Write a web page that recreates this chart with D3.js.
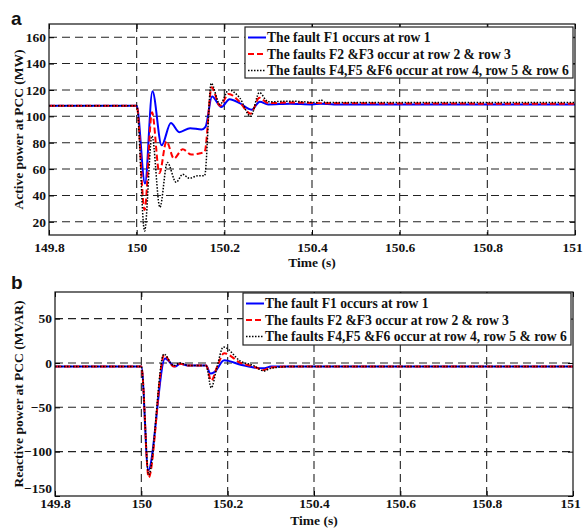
<!DOCTYPE html>
<html>
<head>
<meta charset="utf-8">
<script src="https://cdn.jsdelivr.net/npm/d3@7"></script>
<style>
  body { margin: 0; background: #fff; }
  svg { display: block; }
  text { font-family: "Liberation Serif", "Times New Roman", serif; font-weight: bold; fill: #111; }
  .panel { font-family: "Liberation Sans", Arial, sans-serif; font-size: 19px; }
</style>
</head>
<body>
<div id="app"></div>
<script>
'use strict'

// Legend entries
const legendLabels = [
  'The fault F1 occurs at row 1',
  'The faults F2 &F3 occur at row 2 & row 3',
  'The faults F4,F5 &F6 occur at row 4, row 5 & row 6',
];

const timeTicks = [149.8, 150, 150.2, 150.4, 150.6, 150.8, 151];
const activeTicks = [20, 40, 60, 80, 100, 120, 140, 160];
const reactiveTicks = [-150, -100, -50, 0, 50];

// Active power (MW): [time (s), value]
const activeF1 = [
  [149.8, 108], [150.0, 108], [150.019, 49], [150.036, 119], [150.057, 78],
  [150.078, 95], [150.097, 88], [150.122, 91], [150.148, 90], [150.157, 92],
  [150.172, 115], [150.193, 107], [150.212, 113], [150.235, 110], [150.262, 105],
  [150.281, 111], [150.3, 109], [150.35, 109.5], [150.4, 109], [150.42, 109.5],
  [150.45, 109], [151, 109],
];
const activeF23 = [
  [149.8, 108], [150.0, 108], [150.018, 29], [150.035, 103], [150.052, 57],
  [150.068, 81], [150.085, 68], [150.105, 75], [150.125, 71], [150.145, 72],
  [150.155, 73], [150.171, 122], [150.19, 108], [150.21, 117], [150.232, 112],
  [150.26, 102], [150.28, 114], [150.3, 110], [150.35, 110.5], [150.42, 110],
  [151, 109.5],
];
const activeF456 = [
  [149.8, 108], [150.0, 108], [150.018, 13], [150.035, 85], [150.053, 31],
  [150.07, 65], [150.09, 50], [150.105, 56], [150.12, 53], [150.14, 55],
  [150.155, 55], [150.17, 125], [150.19, 109], [150.21, 120], [150.235, 114],
  [150.26, 100], [150.28, 118], [150.3, 111], [150.35, 111.5], [150.41, 110.5],
  [150.42, 112.5], [150.43, 110.5], [151, 110.5],
];

// Reactive power (MVAR): [time (s), value]
const reactiveF1 = [
  [149.8, -4], [150.0, -4], [150.016, -121], [150.055, 5], [150.078, -4],
  [150.09, -1], [150.11, -3], [150.15, -3], [150.16, -12], [150.17, -10],
  [150.192, 3], [150.23, -2], [150.26, -5], [150.285, -6], [150.3, -4],
  [150.35, -4], [151, -4],
];
const reactiveF23 = [
  [149.8, -4], [150.0, -4], [150.017, -129], [150.053, 9], [150.075, -4],
  [150.09, -1], [150.11, -3], [150.15, -3], [150.162, -20], [150.175, -5],
  [150.192, 11], [150.23, 0], [150.26, -4], [150.284, -8], [150.3, -5],
  [150.35, -4], [151, -4],
];
const reactiveF456 = [
  [149.8, -4], [150.0, -4], [150.017, -126], [150.052, 10], [150.075, -3],
  [150.09, 0], [150.11, -3], [150.15, -3], [150.162, -28], [150.175, -5],
  [150.19, 18], [150.23, 2], [150.26, -3], [150.284, -9], [150.3, -6],
  [150.35, -4], [151, -4],
];

const styles = [
  {color: '#0000ff', width: 2, dash: null},
  {color: '#ff0000', width: 2, dash: '6,3'},
  {color: '#000000', width: 1.5, dash: '1.5,1.5'},
];

const svg = d3.select('#app').append('svg')
  .attr('width', 584)
  .attr('height', 530);

function drawPanel(cfg) {
  const g = svg.append('g');
  const {left, right, top, bottom} = cfg;

  const x = d3.scaleLinear().domain([149.8, 151]).range([left, right]);
  const y = d3.scaleLinear().domain(cfg.yDomain).range([bottom, top]);

  // Dashed grid
  g.selectAll('line.gx').data(timeTicks.slice(1, -1)).enter()
    .append('line')
      .attr('x1', (d) => x(d)).attr('x2', (d) => x(d))
      .attr('y1', top).attr('y2', bottom)
      .attr('stroke', '#222').attr('stroke-width', 1.1)
      .attr('stroke-dasharray', '8,5');
  g.selectAll('line.gy').data(cfg.yTicks.filter((d) => y(d) > top + 1 && y(d) < bottom - 1)).enter()
    .append('line')
      .attr('x1', left).attr('x2', right)
      .attr('y1', (d) => y(d)).attr('y2', (d) => y(d))
      .attr('stroke', '#222').attr('stroke-width', 1.1)
      .attr('stroke-dasharray', '8,5');

  // Series
  const line = d3.line()
    .x((d) => x(d[0]))
    .y((d) => y(d[1]))
    .curve(d3.curveMonotoneX);
  const clipId = 'clip-' + cfg.name;
  g.append('clipPath').attr('id', clipId)
    .append('rect')
      .attr('x', left).attr('y', top)
      .attr('width', right - left).attr('height', bottom - top);
  cfg.series.forEach((s, i) => {
    g.append('path')
      .datum(s)
      .attr('clip-path', `url(#${clipId})`)
      .attr('fill', 'none')
      .attr('stroke', styles[i].color)
      .attr('stroke-width', styles[i].width)
      .attr('stroke-dasharray', styles[i].dash)
      .attr('d', line);
  });

  // Axes with inward ticks on all four sides
  const tk = 5;
  g.append('g').attr('transform', `translate(0,${bottom})`)
    .call(d3.axisBottom(x).tickValues(timeTicks).tickSize(-tk).tickPadding(cfg.xPad)
      .tickFormat((d) => d3.format('~g')(d)))
    .call((a) => a.select('.domain').remove())
    .call((a) => a.selectAll('text').attr('font-size', 13.5).attr('font-family', null).attr('fill', '#111')
      .attr('dx', (d) => (d === 151 ? -3 : 0)));
  g.append('g').attr('transform', `translate(0,${top})`)
    .call(d3.axisTop(x).tickValues(timeTicks).tickSize(-tk).tickFormat(''))
    .call((a) => a.select('.domain').remove());
  g.append('g').attr('transform', `translate(${left},0)`)
    .call(d3.axisLeft(y).tickValues(cfg.yTicks).tickSize(-tk).tickPadding(3))
    .call((a) => a.select('.domain').remove())
    .call((a) => a.selectAll('text').attr('font-size', 13.5).attr('font-family', null).attr('fill', '#111')
      .attr('dy', (d) => (y(d) > bottom - 1 ? cfg.lastDy : '0.32em')));
  g.append('g').attr('transform', `translate(${right},0)`)
    .call(d3.axisRight(y).tickValues(cfg.yTicks).tickSize(-tk).tickFormat(''))
    .call((a) => a.select('.domain').remove());

  g.append('rect')
    .attr('x', left).attr('y', top)
    .attr('width', right - left).attr('height', bottom - top)
    .attr('fill', 'none').attr('stroke', '#111').attr('stroke-width', 1.2);

  // Axis titles
  g.append('text')
    .attr('x', (left + right) / 2).attr('y', cfg.xTitleY)
    .attr('text-anchor', 'middle').attr('font-size', 13.5)
    .text('Time (s)');
  g.append('text')
    .attr('transform', `translate(23,${(top + bottom) / 2}) rotate(-90)`)
    .attr('text-anchor', 'middle').attr('font-size', 13.5)
    .text(cfg.yTitle);

  g.append('text')
    .attr('class', 'panel')
    .attr('x', 11).attr('y', cfg.letterY)
    .text(cfg.name);

  // Legend
  const lg = cfg.legend;
  g.append('rect')
    .attr('x', lg.x).attr('y', lg.y)
    .attr('width', lg.w).attr('height', lg.h)
    .attr('fill', '#fff').attr('stroke', '#222').attr('stroke-width', 1.2);
  legendLabels.forEach((label, i) => {
    const ly = lg.y + 10.5 + i * 16.5;
    g.append('line')
      .attr('x1', lg.x + 3).attr('x2', lg.x + 21)
      .attr('y1', ly).attr('y2', ly)
      .attr('stroke', styles[i].color)
      .attr('stroke-width', styles[i].width)
      .attr('stroke-dasharray', styles[i].dash);
    g.append('text')
      .attr('x', lg.x + 22).attr('y', ly + 4.5)
      .attr('font-size', 13.6)
      .text(label);
  });
}

drawPanel({
  name: 'a',
  left: 49, right: 575, top: 24, bottom: 235,
  yDomain: [10, 170],
  yTicks: activeTicks,
  series: [activeF1, activeF23, activeF456],
  yTitle: 'Active power at PCC (MW)',
  xPad: 7,
  xTitleY: 267,
  letterY: 25,
  lastDy: '0.32em',
  legend: {x: 245, y: 27, w: 328, h: 51},
});

drawPanel({
  name: 'b',
  left: 55, right: 573, top: 292, bottom: 496,
  yDomain: [-150, 80],
  yTicks: reactiveTicks,
  series: [reactiveF1, reactiveF23, reactiveF456],
  yTitle: 'Reactive power at PCC (MVAR)',
  xPad: 2,
  xTitleY: 525,
  letterY: 289,
  lastDy: '-0.25em',
  legend: {x: 243, y: 293, w: 328, h: 52},
});
</script>
</body>
</html>
